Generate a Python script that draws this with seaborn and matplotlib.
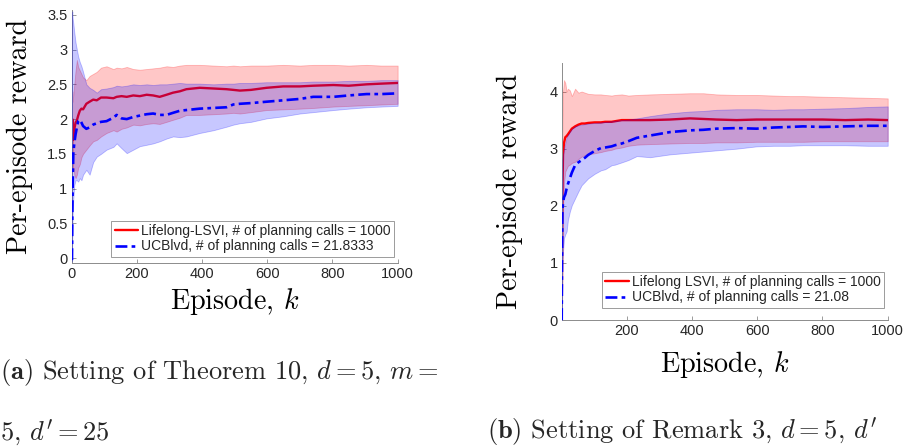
import numpy as np
import pandas as pd
import matplotlib
matplotlib.use("Agg")
import matplotlib.pyplot as plt
from matplotlib.ticker import FuncFormatter
import seaborn as sns

# ---------------- data: panel (a) ----------------
episodes_a = [1, 2, 3, 5, 8, 12, 16, 20, 25, 30, 35, 45, 55, 66, 77, 90, 107, 128, 138,
              153, 169, 189, 209, 230, 250, 270, 291, 311, 332, 352, 393, 435, 475, 496,
              516, 550, 598, 649, 700, 741, 803, 850, 905, 950, 1000]
lifelong_mean_a = [1.24, 2.00, 1.75, 1.70, 1.85, 1.95, 1.98, 2.05, 2.12, 2.15, 2.14, 2.22, 2.25,
                   2.28, 2.27, 2.31, 2.31, 2.30, 2.32, 2.33, 2.32, 2.34, 2.33, 2.35, 2.34, 2.32,
                   2.35, 2.38, 2.40, 2.43, 2.45, 2.44, 2.43, 2.42, 2.41, 2.42, 2.45, 2.47, 2.47,
                   2.48, 2.49, 2.48, 2.50, 2.51, 2.52]
lifelong_hi_a = [2.30, 2.40, 2.25, 2.35, 2.50, 2.70, 2.85, 2.75, 2.70, 2.65, 2.60, 2.56, 2.62,
                 2.65, 2.68, 2.74, 2.76, 2.72, 2.74, 2.73, 2.75, 2.72, 2.71, 2.72, 2.73, 2.74,
                 2.76, 2.75, 2.77, 2.78, 2.78, 2.77, 2.76, 2.77, 2.76, 2.77, 2.77, 2.78, 2.77,
                 2.78, 2.78, 2.77, 2.78, 2.77, 2.77]
lifelong_lo_a = [1.20, 1.40, 1.25, 1.30, 1.20, 1.15, 1.20, 1.30, 1.35, 1.45, 1.50, 1.56, 1.62,
                 1.68, 1.70, 1.75, 1.80, 1.84, 1.82, 1.86, 1.88, 1.92, 1.91, 1.93, 1.94, 1.93,
                 1.96, 1.99, 2.02, 2.06, 2.06, 2.07, 2.08, 2.09, 2.08, 2.10, 2.13, 2.14, 2.15,
                 2.16, 2.18, 2.19, 2.20, 2.21, 2.22]
ucb_mean_a = [-0.03, 0.60, 1.00, 1.50, 1.65, 1.78, 1.88, 1.97, 1.99, 1.95, 1.90, 1.86, 1.88,
              1.92, 1.94, 1.96, 1.97, 2.02, 2.06, 2.01, 2.00, 2.03, 2.05, 2.07, 2.08, 2.06,
              2.06, 2.09, 2.12, 2.13, 2.15, 2.16, 2.17, 2.21, 2.22, 2.23, 2.25, 2.27, 2.29,
              2.32, 2.32, 2.34, 2.36, 2.36, 2.37]
ucb_hi_a = [3.50, 3.55, 3.45, 3.38, 3.25, 3.10, 3.00, 2.90, 2.82, 2.76, 2.68, 2.50, 2.45,
            2.42, 2.38, 2.43, 2.44, 2.46, 2.48, 2.47, 2.48, 2.50, 2.49, 2.50, 2.49, 2.50,
            2.50, 2.51, 2.52, 2.51, 2.51, 2.50, 2.51, 2.51, 2.52, 2.52, 2.53, 2.53, 2.53,
            2.54, 2.54, 2.55, 2.55, 2.56, 2.56]
ucb_lo_a = [-0.05, 0.30, 0.65, 0.85, 1.05, 1.12, 1.12, 1.10, 1.15, 1.12, 1.20, 1.27, 1.20,
            1.38, 1.46, 1.50, 1.56, 1.60, 1.65, 1.58, 1.51, 1.56, 1.61, 1.63, 1.65, 1.68,
            1.72, 1.75, 1.74, 1.75, 1.80, 1.84, 1.89, 1.92, 1.94, 1.96, 2.01, 2.04, 2.08,
            2.10, 2.13, 2.15, 2.17, 2.18, 2.19]

# ---------------- data: panel (b) ----------------
episodes_b = [1, 2, 3, 5, 8, 12, 16, 20, 26, 32, 42, 52, 62, 72, 82, 102, 121, 134, 154, 164,
              185, 205, 231, 272, 333, 394, 435, 475, 537, 598, 650, 700, 741, 800, 870, 940, 1000]
lifelong_mean_b = [0.00, 1.00, 2.20, 2.90, 3.10, 3.20, 3.22, 3.25, 3.30, 3.35, 3.39, 3.42, 3.44,
                   3.44, 3.45, 3.46, 3.46, 3.47, 3.47, 3.48, 3.50, 3.50, 3.50, 3.50, 3.51, 3.53,
                   3.52, 3.51, 3.50, 3.51, 3.51, 3.51, 3.51, 3.51, 3.50, 3.51, 3.50]
lifelong_hi_b = [0.00, 2.50, 3.50, 4.00, 4.20, 4.15, 4.00, 4.05, 4.02, 3.92, 4.05, 3.98, 4.00,
                 3.98, 3.96, 3.95, 3.95, 3.94, 3.93, 3.94, 3.95, 3.93, 3.94, 3.95, 3.96, 3.97,
                 3.97, 3.95, 3.94, 3.94, 3.93, 3.92, 3.92, 3.91, 3.90, 3.89, 3.88]
lifelong_lo_b = [0.00, 0.50, 1.20, 2.00, 2.40, 2.60, 2.65, 2.70, 2.72, 2.75, 2.77, 2.82, 2.86,
                 2.89, 2.90, 2.92, 2.94, 2.96, 2.98, 3.00, 3.02, 3.05, 3.07, 3.08, 3.09, 3.10,
                 3.10, 3.11, 3.11, 3.12, 3.12, 3.12, 3.12, 3.13, 3.13, 3.13, 3.13]
ucb_mean_b = [0.00, 1.20, 1.90, 2.05, 2.15, 2.20, 2.30, 2.38, 2.48, 2.58, 2.71, 2.76, 2.80,
              2.84, 2.89, 2.96, 3.01, 3.02, 3.04, 3.06, 3.09, 3.13, 3.19, 3.23, 3.29, 3.32,
              3.33, 3.35, 3.36, 3.35, 3.37, 3.38, 3.39, 3.38, 3.39, 3.40, 3.40]
ucb_hi_b = [0.00, 2.20, 2.80, 2.90, 3.00, 3.10, 3.20, 3.24, 3.30, 3.35, 3.39, 3.41, 3.42,
            3.43, 3.44, 3.45, 3.46, 3.47, 3.48, 3.49, 3.50, 3.51, 3.53, 3.57, 3.62, 3.65,
            3.66, 3.68, 3.69, 3.69, 3.68, 3.69, 3.69, 3.70, 3.71, 3.73, 3.74]
ucb_lo_b = [0.00, 0.50, 1.00, 1.20, 1.43, 1.50, 1.55, 1.75, 1.90, 2.01, 2.13, 2.25, 2.36,
            2.42, 2.48, 2.56, 2.62, 2.64, 2.71, 2.72, 2.76, 2.80, 2.87, 2.85, 2.90, 2.93,
            2.95, 2.97, 3.00, 3.04, 3.05, 3.05, 3.06, 3.06, 3.06, 3.05, 3.05]

label_lifelong_a = "Lifelong-LSVI, # of planning calls = 1000"
label_ucb_a = "UCBlvd, # of planning calls = 21.8333"
label_lifelong_b = "Lifelong LSVI, # of planning calls = 1000"
label_ucb_b = "UCBlvd, # of planning calls = 21.08"

caption_a1 = r"$\mathbf{(a)}$ Setting of Theorem 10, $d = 5$, $m =$"
caption_a2 = r"5, $d' = 25$"
caption_b = r"$\mathbf{(b)}$ Setting of Remark 3, $d = 5$, $d'$"

# ---------------- style ----------------
sns.set_theme(style="white")
plt.rcParams["font.family"] = ["Liberation Sans", "DejaVu Sans"]
plt.rcParams["mathtext.fontset"] = "cm"
plt.rcParams["axes.unicode_minus"] = False

RED = "#ff0000"
BLUE = "#0000ff"
SERIF = "cmr10"
DASHDOT = (0, (4.5, 1.6, 1.4, 1.6))

fig = plt.figure(figsize=(9.06, 4.47), dpi=100)
ax_a = fig.add_axes([0.0791, 0.411, 0.3598, 0.5667])
ax_b = fig.add_axes([0.620, 0.2841, 0.3598, 0.575])


def draw_panel(ax, ep, lm, lh, ll, um, uh, ul, lab_l, lab_u):
    df = pd.DataFrame({"episode": ep, "lifelong": lm, "ucb": um})
    ax.fill_between(ep, ll, lh, facecolor=(1, 0, 0, 0.22),
                    edgecolor=(1, 0, 0, 0.25), linewidth=0.6, zorder=1)
    sns.lineplot(data=df, x="episode", y="lifelong", ax=ax, color=RED,
                 linewidth=1.7, label=lab_l, zorder=2)
    ax.fill_between(ep, ul, uh, facecolor=(0, 0, 1, 0.22),
                    edgecolor=(0, 0, 1, 0.25), linewidth=0.6, zorder=3)
    sns.lineplot(data=df, x="episode", y="ucb", ax=ax, color=BLUE,
                 linewidth=1.9, linestyle=DASHDOT, label=lab_u, zorder=4)

    for side in ("top", "right"):
        ax.spines[side].set_visible(False)
    for side in ("left", "bottom"):
        ax.spines[side].set_color("#8c8c8c")
        ax.spines[side].set_linewidth(0.7)
    ax.tick_params(direction="in", length=3, width=0.6, color="#8c8c8c",
                   labelsize=10.5, labelcolor="#262626", pad=3,
                   left=True, bottom=True)
    ax.yaxis.set_major_formatter(FuncFormatter(lambda v, p: f"{v:g}"))
    ax.set_ylabel("Per-episode reward", fontfamily=SERIF, fontsize=20.3, color="black")
    ax.set_xlabel(r"Episode, $k$", fontfamily=SERIF, fontsize=20.3, color="black")


draw_panel(ax_a, episodes_a, lifelong_mean_a, lifelong_hi_a, lifelong_lo_a,
           ucb_mean_a, ucb_hi_a, ucb_lo_a, label_lifelong_a, label_ucb_a)
draw_panel(ax_b, episodes_b, lifelong_mean_b, lifelong_hi_b, lifelong_lo_b,
           ucb_mean_b, ucb_hi_b, ucb_lo_b, label_lifelong_b, label_ucb_b)

ax_a.set_xlim(0, 1000)
ax_a.set_ylim(-0.075, 3.57)
ax_a.set_xticks([0, 200, 400, 600, 800, 1000])
ax_a.set_yticks([0, 0.5, 1, 1.5, 2, 2.5, 3, 3.5])
ax_a.yaxis.set_label_coords(-0.119, 0.5)
ax_a.xaxis.set_label_coords(0.5, -0.09)

ax_b.set_xlim(1, 1000)
ax_b.set_ylim(0, 4.5)
ax_b.set_xticks([200, 400, 600, 800, 1000])
ax_b.set_yticks([0, 1, 2, 3, 4])
ax_b.yaxis.set_label_coords(-0.119, 0.5)
ax_b.xaxis.set_label_coords(0.5, -0.113)

for ax, anchor in ((ax_a, (0.989, 0.025)), (ax_b, (0.989, 0.047))):
    leg = ax.legend(loc="lower right", bbox_to_anchor=anchor, fontsize=10,
                    frameon=True, fancybox=False, framealpha=1,
                    handlelength=1.7, handletextpad=0.2, borderpad=0.25,
                    labelspacing=0.1, borderaxespad=0)
    leg.get_frame().set_edgecolor("#8c8c8c")
    leg.get_frame().set_linewidth(0.6)
    leg.set_zorder(10)

fig.text(0.0, 1 - 373 / 447, caption_a1, fontfamily=SERIF, fontsize=19,
         ha="left", va="center")
fig.text(0.0, 1 - 432 / 447, caption_a2, fontfamily=SERIF, fontsize=19,
         ha="left", va="center")
fig.text(487 / 906, 1 - 432 / 447, caption_b, fontfamily=SERIF, fontsize=19,
         ha="left", va="center")

fig.savefig("out.png", dpi=100)
